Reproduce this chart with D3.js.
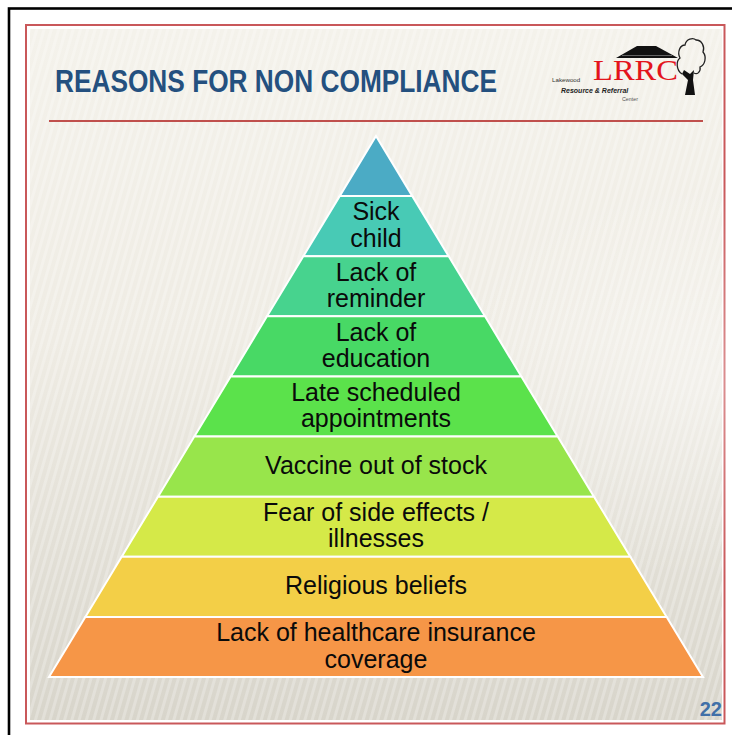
<!DOCTYPE html>
<html>
<head>
<meta charset="utf-8">
<script src="https://cdn.jsdelivr.net/npm/d3@7"></script>
<style>
  html, body { margin: 0; padding: 0; background: #ffffff; }
  svg { display: block; }
</style>
</head>
<body>
<div id="chart"></div>
<script>
// ---------- data ----------
const title = "REASONS FOR NON COMPLIANCE";
const levelLabels = [
  [],
  ["Sick", "child"],
  ["Lack of", "reminder"],
  ["Lack of", "education"],
  ["Late scheduled", "appointments"],
  ["Vaccine out of stock"],
  ["Fear of side effects /", "illnesses"],
  ["Religious beliefs"],
  ["Lack of healthcare insurance", "coverage"]
];
const levelColors = [
  "#4babc5", "#48cab5", "#47d38e", "#48d965", "#5be24b",
  "#98e54b", "#d5e948", "#f3cf47", "#f69647"
];
const pageNumber = "22";
const logoWords = ["LRRC", "Lakewood", "Resource & Referral", "Center"];

// ---------- canvas ----------
const W = 732, H = 735;
const svg = d3.select("#chart").append("svg").attr("width", W).attr("height", H);
const defs = svg.append("defs");

const bg = defs.append("linearGradient").attr("id", "bgGrad")
  .attr("x1", 0).attr("y1", 0).attr("x2", 0).attr("y2", 1);
bg.append("stop").attr("offset", "0").attr("stop-color", "#f4f2eb");
bg.append("stop").attr("offset", "0.45").attr("stop-color", "#efece4");
bg.append("stop").attr("offset", "1").attr("stop-color", "#d8d5cb");

const pat = defs.append("pattern").attr("id", "stripes")
  .attr("width", 7).attr("height", 7)
  .attr("patternUnits", "userSpaceOnUse")
  .attr("patternTransform", "rotate(16)");
pat.append("rect").attr("width", 3).attr("height", 7).attr("fill", "rgba(255,255,255,0.25)");

const glow = defs.append("radialGradient").attr("id", "glow")
  .attr("cx", 0.5).attr("cy", 0.5).attr("r", 0.5);
glow.append("stop").attr("offset", "0").attr("stop-color", "rgba(255,255,255,0.35)");
glow.append("stop").attr("offset", "1").attr("stop-color", "rgba(255,255,255,0)");

// outer black frame (extends past right / bottom edges)
svg.append("rect").attr("x", 9).attr("y", 8.5).attr("width", 900).attr("height", 900)
  .attr("fill", "none").attr("stroke", "#000").attr("stroke-width", 2.6);

// red frame
svg.append("rect").attr("x", 26).attr("y", 25).attr("width", 698.5).attr("height", 698.5)
  .attr("fill", "#ffffff").attr("stroke", "#c9585a").attr("stroke-width", 2);

// slide background
svg.append("rect").attr("x", 30).attr("y", 29).attr("width", 692).attr("height", 691)
  .attr("fill", "url(#bgGrad)");
svg.append("rect").attr("x", 30).attr("y", 29).attr("width", 692).attr("height", 691)
  .attr("fill", "url(#stripes)");
svg.append("ellipse").attr("cx", 700).attr("cy", 380).attr("rx", 260).attr("ry", 200)
  .attr("fill", "url(#glow)");

// ---------- title ----------
svg.append("text")
  .attr("x", 55).attr("y", 92)
  .attr("font-family", "'Liberation Sans Narrow', 'Liberation Sans', Arial, sans-serif")
  .attr("font-weight", "bold")
  .attr("font-size", 31)
  .attr("fill", "#24507f")
  .attr("textLength", 442)
  .attr("lengthAdjust", "spacingAndGlyphs")
  .text(title);

svg.append("line").attr("x1", 49).attr("x2", 703).attr("y1", 121).attr("y2", 121)
  .attr("stroke", "#c0504d").attr("stroke-width", 2);

// ---------- logo ----------
const logo = svg.append("g");
logo.append("path")
  .attr("d", "M616,58 L637,46 L656,46 L678,58 Z")
  .attr("fill", "#111");
logo.append("line").attr("x1", 622).attr("x2", 672).attr("y1", 55.5).attr("y2", 55.5)
  .attr("stroke", "#777").attr("stroke-width", 0.8);
logo.append("text").attr("x", 593).attr("y", 79.5)
  .attr("font-family", "'Liberation Serif', 'Times New Roman', serif")
  .attr("font-size", 29.5).attr("fill", "#e3141c")
  .attr("textLength", 85).attr("lengthAdjust", "spacingAndGlyphs")
  .text(logoWords[0]);
const small = logo.append("text")
  .attr("font-family", "'Liberation Sans', Arial, sans-serif");
small.append("tspan").attr("x", 552).attr("y", 82)
  .attr("font-size", 6.2).attr("fill", "#333").text(logoWords[1]);
small.append("tspan").attr("x", 561).attr("y", 93)
  .attr("font-size", 7).attr("font-weight", "bold").attr("font-style", "italic")
  .attr("fill", "#222").text(logoWords[2]);
small.append("tspan").attr("x", 622).attr("y", 101)
  .attr("font-size", 5.3).attr("fill", "#555").text(logoWords[3]);
// tree
logo.append("path")
  .attr("d", "M682,74 C676,70 676,61 680,58 C677,52 680,45 685,45 C686,39 693,37 696,40 C702,40 705,47 703,52 C707,57 705,65 700,67 C701,72 697,75 694,73")
  .attr("fill", "none").attr("stroke", "#222").attr("stroke-width", 1.3);
logo.append("path")
  .attr("d", "M684,70 L690,74 L694,70 L693,80 L695,95 L685,95 L688,80 L682,74 Z")
  .attr("fill", "#111");

// ---------- pyramid ----------
const cx = 376;
const yTop = 136, yBase = 677, halfBase = 327;
const y = d3.scaleBand().domain(d3.range(levelLabels.length)).range([yTop, yBase]).padding(0);
const half = d3.scaleLinear().domain([yTop, yBase]).range([0, halfBase]);

const levels = svg.append("g").selectAll("g")
  .data(levelLabels.map((lines, i) => ({ lines, i, color: levelColors[i] })))
  .join("g");

levels.append("path")
  .attr("d", d => {
    const y0 = y(d.i), y1 = y(d.i) + y.bandwidth();
    return d3.line()([
      [cx - half(y0), y0], [cx + half(y0), y0],
      [cx + half(y1), y1], [cx - half(y1), y1]
    ]) + "Z";
  })
  .attr("fill", d => d.color)
  .attr("stroke", "#ffffff")
  .attr("stroke-width", 2)
  .attr("stroke-linejoin", "miter");

const fs = 25, lh = 26.5;
levels.each(function (d) {
  const g = d3.select(this);
  const mid = y(d.i) + y.bandwidth() / 2;
  const n = d.lines.length;
  d.lines.forEach((line, k) => {
    g.append("text")
      .attr("x", cx)
      .attr("y", mid + (k - (n - 1) / 2) * lh + 0.3 * fs)
      .attr("text-anchor", "middle")
      .attr("font-family", "'Liberation Sans', Arial, sans-serif")
      .attr("font-size", fs)
      .attr("fill", "#0a0a0a")
      .text(line);
  });
});

// ---------- page number ----------
svg.append("text").attr("x", 722).attr("y", 716)
  .attr("text-anchor", "end")
  .attr("font-family", "'Liberation Sans', Arial, sans-serif")
  .attr("font-weight", "bold").attr("font-size", 20)
  .attr("fill", "#4170a8")
  .text(pageNumber);
</script>
</body>
</html>
